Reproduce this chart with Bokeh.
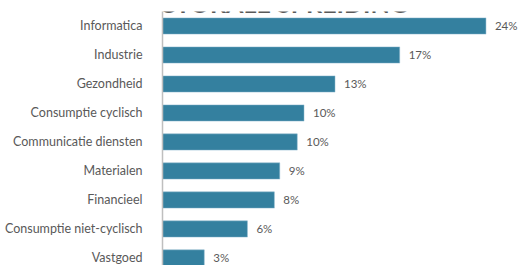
from bokeh.plotting import figure
from bokeh.models import Range1d, FixedTicker, Label, ColumnDataSource
from bokeh.embed import file_html
from bokeh.resources import INLINE

title_text = "SECTORALE SPREIDING"
categories = ["Informatica", "Industrie", "Gezondheid", "Consumptie cyclisch",
              "Communicatie diensten", "Materialen", "Financieel",
              "Consumptie niet-cyclisch", "Vastgoed"]
values = [24.0, 17.6, 12.8, 10.5, 10.0, 8.7, 8.3, 6.3, 3.1]
value_labels = ["24%", "17%", "13%", "10%", "10%", "9%", "8%", "6%", "3%"]

n = len(categories)
ypos = [n - 1 - i for i in range(n)]

src = ColumnDataSource(dict(y=ypos, v=values, lab=value_labels, cat=categories))

p = figure(width=524, height=265, output_backend="svg", toolbar_location=None,
           x_axis_location=None, x_range=Range1d(0, 26.86),
           y_range=Range1d(-0.259, n - 0.5),
           min_border_left=162, min_border_right=0, min_border_top=11,
           min_border_bottom=0)
p.outline_line_color = None
p.background_fill_color = "white"
p.border_fill_color = "white"
p.xgrid.visible = False
p.ygrid.visible = False

p.hbar(y="y", left=0, right="v", height=0.56, source=src,
       fill_color="#34809f", line_color="#8fb9cf", line_width=0.5)
p.text(x="v", y="y", text="lab", source=src, x_offset=9,
       text_baseline="middle", text_align="left",
       text_font_size="11.5px", text_color="#595959", text_font={"value": "Lato"})

ax = p.yaxis[0]
ax.ticker = FixedTicker(ticks=ypos)
ax.major_label_overrides = {y: c for y, c in zip(ypos, categories)}
ax.major_tick_line_color = None
ax.minor_tick_line_color = None
ax.axis_line_color = "#bfbfbf"
ax.axis_line_width = 1.5
ax.major_label_standoff = 14
ax.major_label_text_font = "Lato"
ax.major_label_text_font_size = "12.5px"
ax.major_label_text_color = "#595959"

p.add_layout(Label(x=107, y=263, x_units="screen", y_units="screen",
                   text=title_text, text_align="center", text_baseline="alphabetic",
                   text_font="Lato", text_font_style="bold", text_font_size="25px",
                   text_color="#595959"))

open("out.html", "w").write(file_html(p, INLINE))
